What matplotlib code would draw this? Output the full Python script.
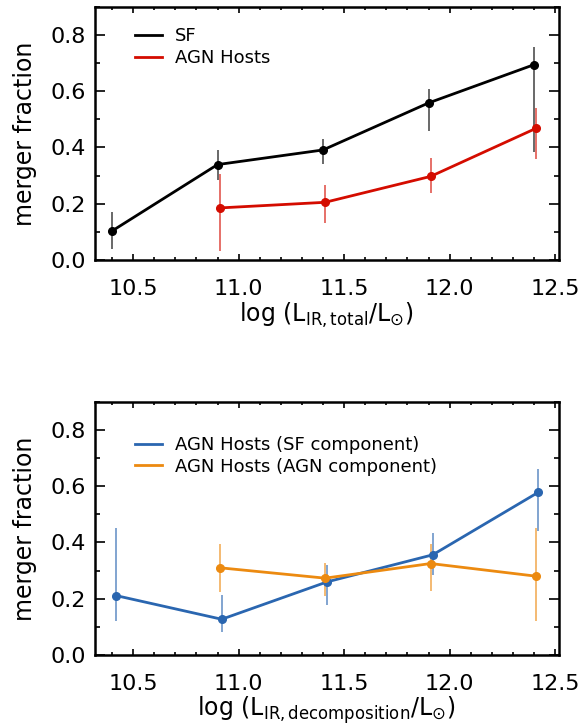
import matplotlib
matplotlib.use("Agg")
import matplotlib.pyplot as plt
from matplotlib.ticker import MultipleLocator

plt.rcParams['font.family'] = ['DejaVu Sans']
plt.rcParams['mathtext.fontset'] = 'dejavusans'

# ---- data (top panel) ----
sf_x = [10.40, 10.90, 11.40, 11.90, 12.40]
sf_y = [0.103, 0.339, 0.391, 0.558, 0.694]
sf_lo = [0.038, 0.285, 0.340, 0.459, 0.384]
sf_hi = [0.170, 0.392, 0.430, 0.606, 0.757]

agn_x = [10.91, 11.41, 11.91, 12.41]
agn_y = [0.185, 0.205, 0.297, 0.468]
agn_lo = [0.033, 0.133, 0.238, 0.360]
agn_hi = [0.307, 0.265, 0.363, 0.541]

# ---- data (bottom panel) ----
sfc_x = [10.42, 10.92, 11.42, 11.92, 12.42]
sfc_y = [0.211, 0.127, 0.260, 0.356, 0.578]
sfc_lo = [0.122, 0.082, 0.178, 0.283, 0.439]
sfc_hi = [0.453, 0.214, 0.321, 0.434, 0.660]

agnc_x = [10.91, 11.41, 11.91, 12.41]
agnc_y = [0.310, 0.273, 0.325, 0.280]
agnc_lo = [0.224, 0.208, 0.228, 0.122]
agnc_hi = [0.395, 0.327, 0.393, 0.453]

labels_top = ["SF", "AGN Hosts"]
labels_bot = ["AGN Hosts (SF component)", "AGN Hosts (AGN component)"]
xlabel_top = r"log $(\mathrm{L_{IR,total}}/\mathrm{L}_{\odot})$"
xlabel_bot = r"log $(\mathrm{L_{IR,decomposition}}/\mathrm{L}_{\odot})$"
ylabel = "merger fraction"

BLACK = "#000000"
RED = "#d40c00"
BLUE = "#2a66b0"
ORANGE = "#ec8a10"

W, H = 583, 726
fig = plt.figure(figsize=(W / 100, H / 100), dpi=100)

def axes_rect(left, top, right, bottom):
    return [left / W, 1 - bottom / H, (right - left) / W, (bottom - top) / H]

ax1 = fig.add_axes(axes_rect(94.7, 6.7, 558.5, 260))
ax2 = fig.add_axes(axes_rect(94.7, 401.7, 558.5, 655))

def series(ax, x, y, lo, hi, color, label):
    yerr = [[yy - l for yy, l in zip(y, lo)], [h - yy for yy, h in zip(y, hi)]]
    ax.errorbar(x, y, yerr=yerr, fmt='none', ecolor=color, elinewidth=1.1,
                alpha=0.75, capsize=0, zorder=2)
    ax.plot(x, y, '-', color=color, lw=2.0, zorder=3, label=label)
    ax.plot(x, y, 'o', color=color, ms=5.5, zorder=4)

series(ax1, sf_x, sf_y, sf_lo, sf_hi, BLACK, labels_top[0])
series(ax1, agn_x, agn_y, agn_lo, agn_hi, RED, labels_top[1])
series(ax2, sfc_x, sfc_y, sfc_lo, sfc_hi, BLUE, labels_bot[0])
series(ax2, agnc_x, agnc_y, agnc_lo, agnc_hi, ORANGE, labels_bot[1])

for ax, xl, legy in ((ax1, xlabel_top, 0.918), (ax2, xlabel_bot, 0.865)):
    ax.set_xlim(10.318, 12.516)
    ax.set_ylim(0, 0.9)
    ax.xaxis.set_major_locator(MultipleLocator(0.5))
    ax.xaxis.set_minor_locator(MultipleLocator(0.1))
    ax.yaxis.set_major_locator(MultipleLocator(0.2))
    ax.yaxis.set_minor_locator(MultipleLocator(0.1))
    ax.xaxis.set_major_formatter(matplotlib.ticker.FormatStrFormatter('%.1f'))
    ax.yaxis.set_major_formatter(matplotlib.ticker.FormatStrFormatter('%.1f'))
    ax.tick_params(axis='both', which='both', direction='in', top=True, right=True,
                   width=1.2, labelsize=16)
    ax.tick_params(axis='y', which='major', length=7, pad=6)
    ax.tick_params(axis='y', which='minor', length=3.5)
    ax.tick_params(axis='x', which='major', length=4.5, pad=14)
    ax.tick_params(axis='x', which='minor', length=2.5)
    for s in ax.spines.values():
        s.set_linewidth(1.8)
    ax.set_xlabel(xl, fontsize=17, va='center')
    ax.xaxis.set_label_coords(0.5, -0.218)
    ax.set_ylabel(ylabel, fontsize=17, va='center')
    ax.yaxis.set_label_coords(-0.150, 0.5)
    ax.legend(loc='upper left', bbox_to_anchor=(0.0868, legy), frameon=False,
              fontsize=13, handlelength=1.5, handletextpad=0.7, labelspacing=0.2,
              borderpad=0, borderaxespad=0)

fig.savefig("out.png", dpi=100)
